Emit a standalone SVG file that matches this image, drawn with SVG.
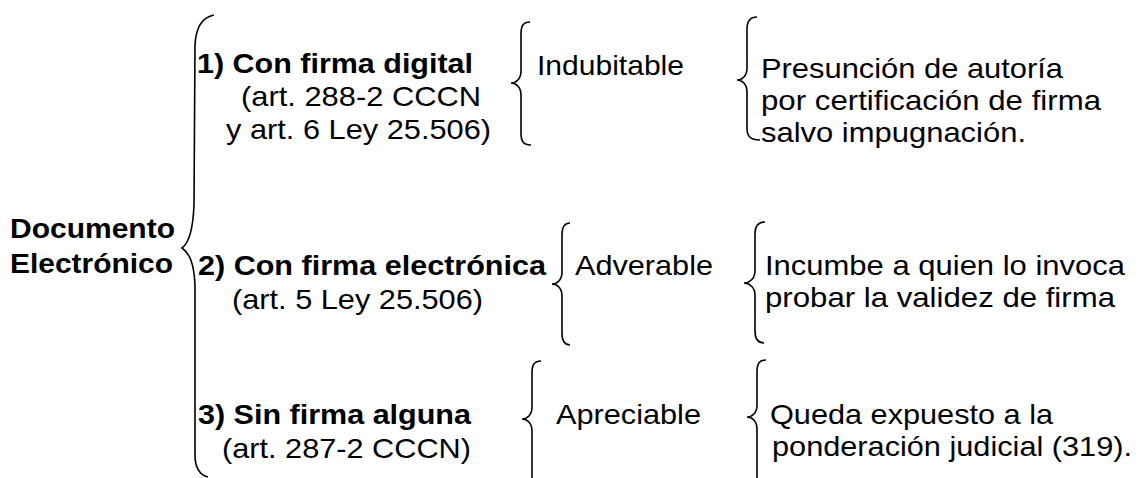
<svg xmlns="http://www.w3.org/2000/svg" width="1144" height="478" viewBox="0 0 1144 478">
<style>
text{font-family:"Liberation Sans",Arial,sans-serif;fill:#000;font-size:28.5px}
.b{font-weight:bold}
.br{fill:none;stroke:#000;stroke-width:1.6}
</style>
<rect width="1144" height="478" fill="#fff"/>
<g id="connectors">
<path id="brace-main" class="br" d="M214 15 C203 17 196 27 195 45 L194 205 C193 230 189 243 182 248 C189 253 194 262 195 285 L195 455 C195 468 200 475 208 477"/>
<path id="brace-ind" class="br" d="M530 22 C523 22 521 26 521 34 L521 71 C521 79 516 83 511 83 C516 83 521 87 521 95 L521 133 C521 141 523 145 531 145"/>
<path id="brace-pre" class="br" d="M757 17 C750 17 747 21 747 29 L747 68 C747 76 742 80 737 80 C742 80 747 84 747 92 L747 128 C747 136 750 140 760 140"/>
<path id="brace-adv" class="br" d="M570 223 C564 223 562 227 562 235 L562 272 C562 280 557 284 552 284 C557 284 562 288 562 296 L562 333 C562 341 564 345 570 345"/>
<path id="brace-inc" class="br" d="M765 222 C758 222 755 226 755 234 L755 271 C755 279 749 283 744 283 C749 283 755 287 755 295 L755 331 C755 339 758 343 764 343"/>
<path id="brace-apr" class="br" d="M541 361 C534 361 532 365 532 373 L532 407 C532 415 527 419 522 419 C527 419 532 423 532 431 L532 478"/>
<path id="brace-que" class="br" d="M766 360 C759 360 757 364 757 372 L757 405 C757 413 752 417 747 417 C752 417 757 421 757 429 L757 478"/>
</g>
<g id="root"><text class="b" x="10" y="238" textLength="165" lengthAdjust="spacingAndGlyphs">Documento</text><text class="b" x="10" y="273" textLength="163" lengthAdjust="spacingAndGlyphs">Electrónico</text></g>
<g id="n1"><text class="b" x="197" y="73" textLength="276" lengthAdjust="spacingAndGlyphs">1) Con firma digital</text><text x="241" y="106" textLength="240" lengthAdjust="spacingAndGlyphs">(art. 288-2 CCCN</text><text x="226" y="139" textLength="265" lengthAdjust="spacingAndGlyphs">y art. 6 Ley 25.506)</text></g>
<g id="n1a"><text x="537" y="75" textLength="147" lengthAdjust="spacingAndGlyphs">Indubitable</text></g>
<g id="n1b"><text x="761" y="78" textLength="302" lengthAdjust="spacingAndGlyphs">Presunción de autoría</text><text x="761" y="110" textLength="340" lengthAdjust="spacingAndGlyphs">por certificación de firma</text><text x="761" y="142" textLength="265" lengthAdjust="spacingAndGlyphs">salvo impugnación.</text></g>
<g id="n2"><text class="b" x="198" y="275" textLength="348" lengthAdjust="spacingAndGlyphs">2) Con firma electrónica</text><text x="232" y="309" textLength="251" lengthAdjust="spacingAndGlyphs">(art. 5 Ley 25.506)</text></g>
<g id="n2a"><text x="575" y="275" textLength="138" lengthAdjust="spacingAndGlyphs">Adverable</text></g>
<g id="n2b"><text x="765" y="275" textLength="360" lengthAdjust="spacingAndGlyphs">Incumbe a quien lo invoca</text><text x="765" y="307" textLength="350" lengthAdjust="spacingAndGlyphs">probar la validez de firma</text></g>
<g id="n3"><text class="b" x="198" y="424" textLength="273" lengthAdjust="spacingAndGlyphs">3) Sin firma alguna</text><text x="222" y="458" textLength="249" lengthAdjust="spacingAndGlyphs">(art. 287-2 CCCN)</text></g>
<g id="n3a"><text x="556" y="424" textLength="145" lengthAdjust="spacingAndGlyphs">Apreciable</text></g>
<g id="n3b"><text x="770" y="424" textLength="283" lengthAdjust="spacingAndGlyphs">Queda expuesto a la</text><text x="772" y="456" textLength="360" lengthAdjust="spacingAndGlyphs">ponderación judicial (319).</text></g>
</svg>
